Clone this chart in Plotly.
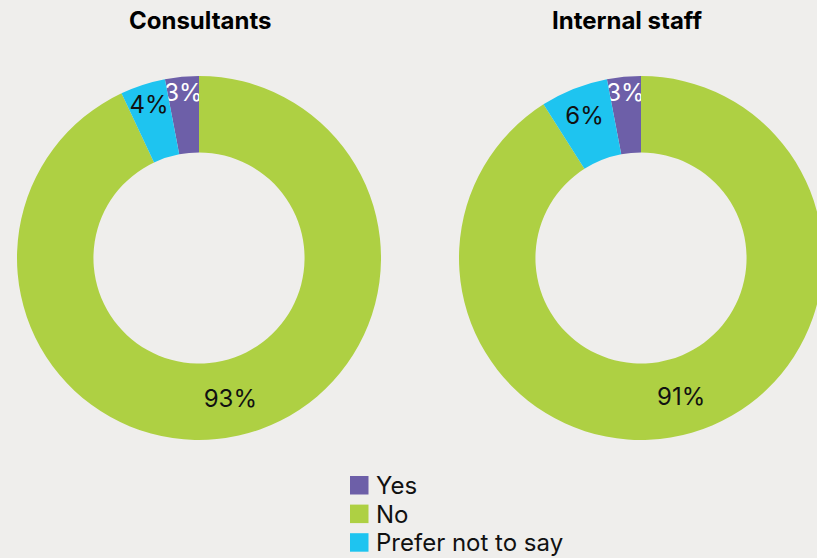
import plotly.graph_objects as go

labels = ["Yes", "No", "Prefer not to say"]
consultants = [3, 93, 4]
internal = [3, 91, 6]
titles = ["Consultants", "Internal staff"]

colors = ["#6d5fa8", "#aed043", "#1ec4f0"]
text_colors = ["#ffffff", "#111111", "#111111"]

W, H = 830, 558
FONT = "Inter, Noto Sans, sans-serif"

def pie(vals, xdom):
    rot = -vals[0] / sum(vals) * 360
    return go.Pie(
        labels=labels, values=vals, hole=0.58, sort=False,
        direction="clockwise", rotation=rot,
        marker=dict(colors=colors, line=dict(width=0)),
        textinfo="percent", textposition="inside",
        insidetextorientation="horizontal",
        textfont=dict(color=text_colors, size=24, family=FONT),
        domain=dict(x=xdom, y=[(H - 440) / H, (H - 76) / H]),
        showlegend=False, hoverinfo="label+percent",
    )

fig = go.Figure()
fig.add_trace(pie(consultants, [17 / W, 381 / W]))
fig.add_trace(pie(internal, [458 / W, 824 / W]))

for t, xc in zip(titles, [200, 627]):
    fig.add_annotation(text="<b>" + t + "</b>", x=xc / W, y=1 - 21 / H,
                       xref="paper", yref="paper", showarrow=False,
                       xanchor="center", yanchor="middle",
                       font=dict(size=24, color="#000000", family=FONT))

# legend (swatch + label per category)
for i, (lab, col) in enumerate(zip(labels, colors)):
    top = 476 + i * 28.6
    fig.add_shape(type="rect", xref="paper", yref="paper",
                  x0=350 / W, x1=368.5 / W, y0=1 - top / H, y1=1 - (top + 18.5) / H,
                  fillcolor=col, line=dict(width=0))
    fig.add_annotation(text=lab, x=374 / W, y=1 - (top + 9.5) / H,
                       xref="paper", yref="paper", showarrow=False,
                       xanchor="left", yanchor="middle",
                       font=dict(size=24, color="#111111", family=FONT))

fig.update_layout(
    width=W, height=H,
    margin=dict(l=0, r=0, t=0, b=0),
    paper_bgcolor="#efeeec", plot_bgcolor="#efeeec",
    uniformtext=dict(minsize=24, mode="show"),
    showlegend=False,
    font=dict(family=FONT),
)

fig.write_html("out.html", post_script="document.body.style.margin='0';document.body.style.overflow='hidden';document.documentElement.style.overflow='hidden';")
